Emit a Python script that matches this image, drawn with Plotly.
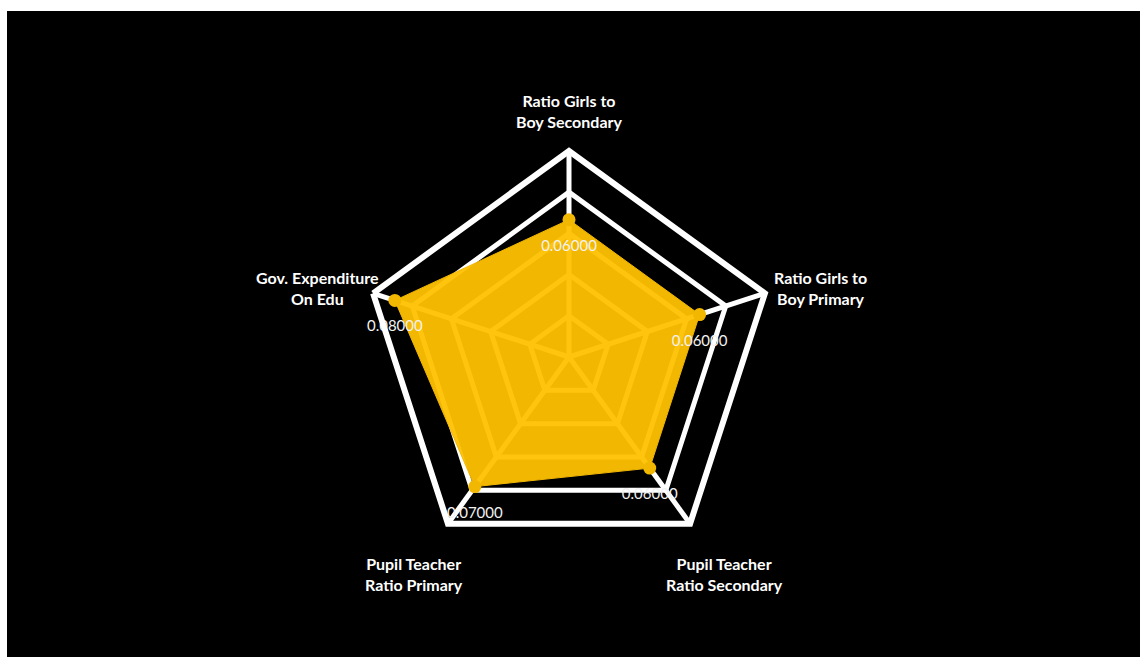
import math
import plotly.graph_objects as go

# Education indicators shown on the radar (clockwise from the top)
categories = [
    "Ratio Girls to<br>Boy Secondary",
    "Ratio Girls to<br>Boy Primary",
    "Pupil Teacher<br>Ratio Secondary",
    "Pupil Teacher<br>Ratio Primary",
    "Gov. Expenditure<br>On Edu",
]
values = [0.06, 0.06, 0.06, 0.07, 0.08]
value_labels = [f"{v:.5f}" for v in values]

radial_max = 0.09
ring_values = [radial_max * k / 5 for k in range(1, 6)]

W, H = 1140, 657
cx, cy, R = 569, 357, 206      # polar centre and radius in pixels
label_rx, label_ry, label_dy = 264, 256, 10   # category label ellipse

YELLOW = "#F2B700"
FONT = "Lato"

# close the polygon
theta = categories + categories[:1]
r = values + values[:1]

fig = go.Figure()

# filled area with markers
fig.add_trace(
    go.Scatterpolar(
        r=r,
        theta=theta,
        mode="lines+markers",
        fill="toself",
        fillcolor="rgba(255,193,0,0.95)",
        line=dict(color=YELLOW, width=1),
        marker=dict(size=[13] * 5 + [0], color=YELLOW, opacity=1,
                    line=dict(width=0)),
        hoverinfo="skip",
        showlegend=False,
    )
)

# value labels, pushed below each point by an invisible marker
fig.add_trace(
    go.Scatterpolar(
        r=values,
        theta=categories,
        mode="markers+text",
        marker=dict(size=30, color="rgba(0,0,0,0)", line=dict(width=0)),
        text=value_labels,
        textposition="bottom center",
        textfont=dict(family=FONT, size=15, color="#F2F2F2"),
        hoverinfo="skip",
        showlegend=False,
    )
)

# category labels placed around the pentagon, centred text
annotations = []
n = len(categories)
for i, name in enumerate(categories):
    ang = math.radians(90 - 360 * i / n)
    px = cx + label_rx * math.cos(ang)
    py = cy + label_dy - label_ry * math.sin(ang)
    annotations.append(
        dict(
            x=px / W, y=1 - py / H, xref="paper", yref="paper",
            text=name, showarrow=False, align="center",
            xanchor="center", yanchor="middle",
            font=dict(family=FONT, size=16, color="white", weight="bold"),
        )
    )

fig.update_layout(
    width=W,
    height=H,
    margin=dict(l=0, r=0, t=0, b=0),
    paper_bgcolor="white",
    showlegend=False,
    annotations=annotations,
    shapes=[
        dict(
            type="rect", xref="paper", yref="paper",
            x0=7 / W, x1=1, y0=0, y1=1 - 11 / H,
            fillcolor="black", line=dict(width=0), layer="below",
        )
    ],
    polar=dict(
        domain=dict(
            x=[(cx - R) / W, (cx + R) / W],
            y=[(H - cy - R) / H, (H - cy + R) / H],
        ),
        bgcolor="rgba(0,0,0,0)",
        gridshape="linear",
        radialaxis=dict(
            range=[0, radial_max],
            tickvals=ring_values,
            showticklabels=False,
            ticks="",
            showline=False,
            gridcolor="white",
            gridwidth=5,
        ),
        angularaxis=dict(
            rotation=90,
            direction="clockwise",
            showline=True,
            linecolor="white",
            linewidth=6,
            gridcolor="white",
            gridwidth=5,
            ticks="",
            showticklabels=False,
        ),
    ),
)

fig.write_html("out.html")
